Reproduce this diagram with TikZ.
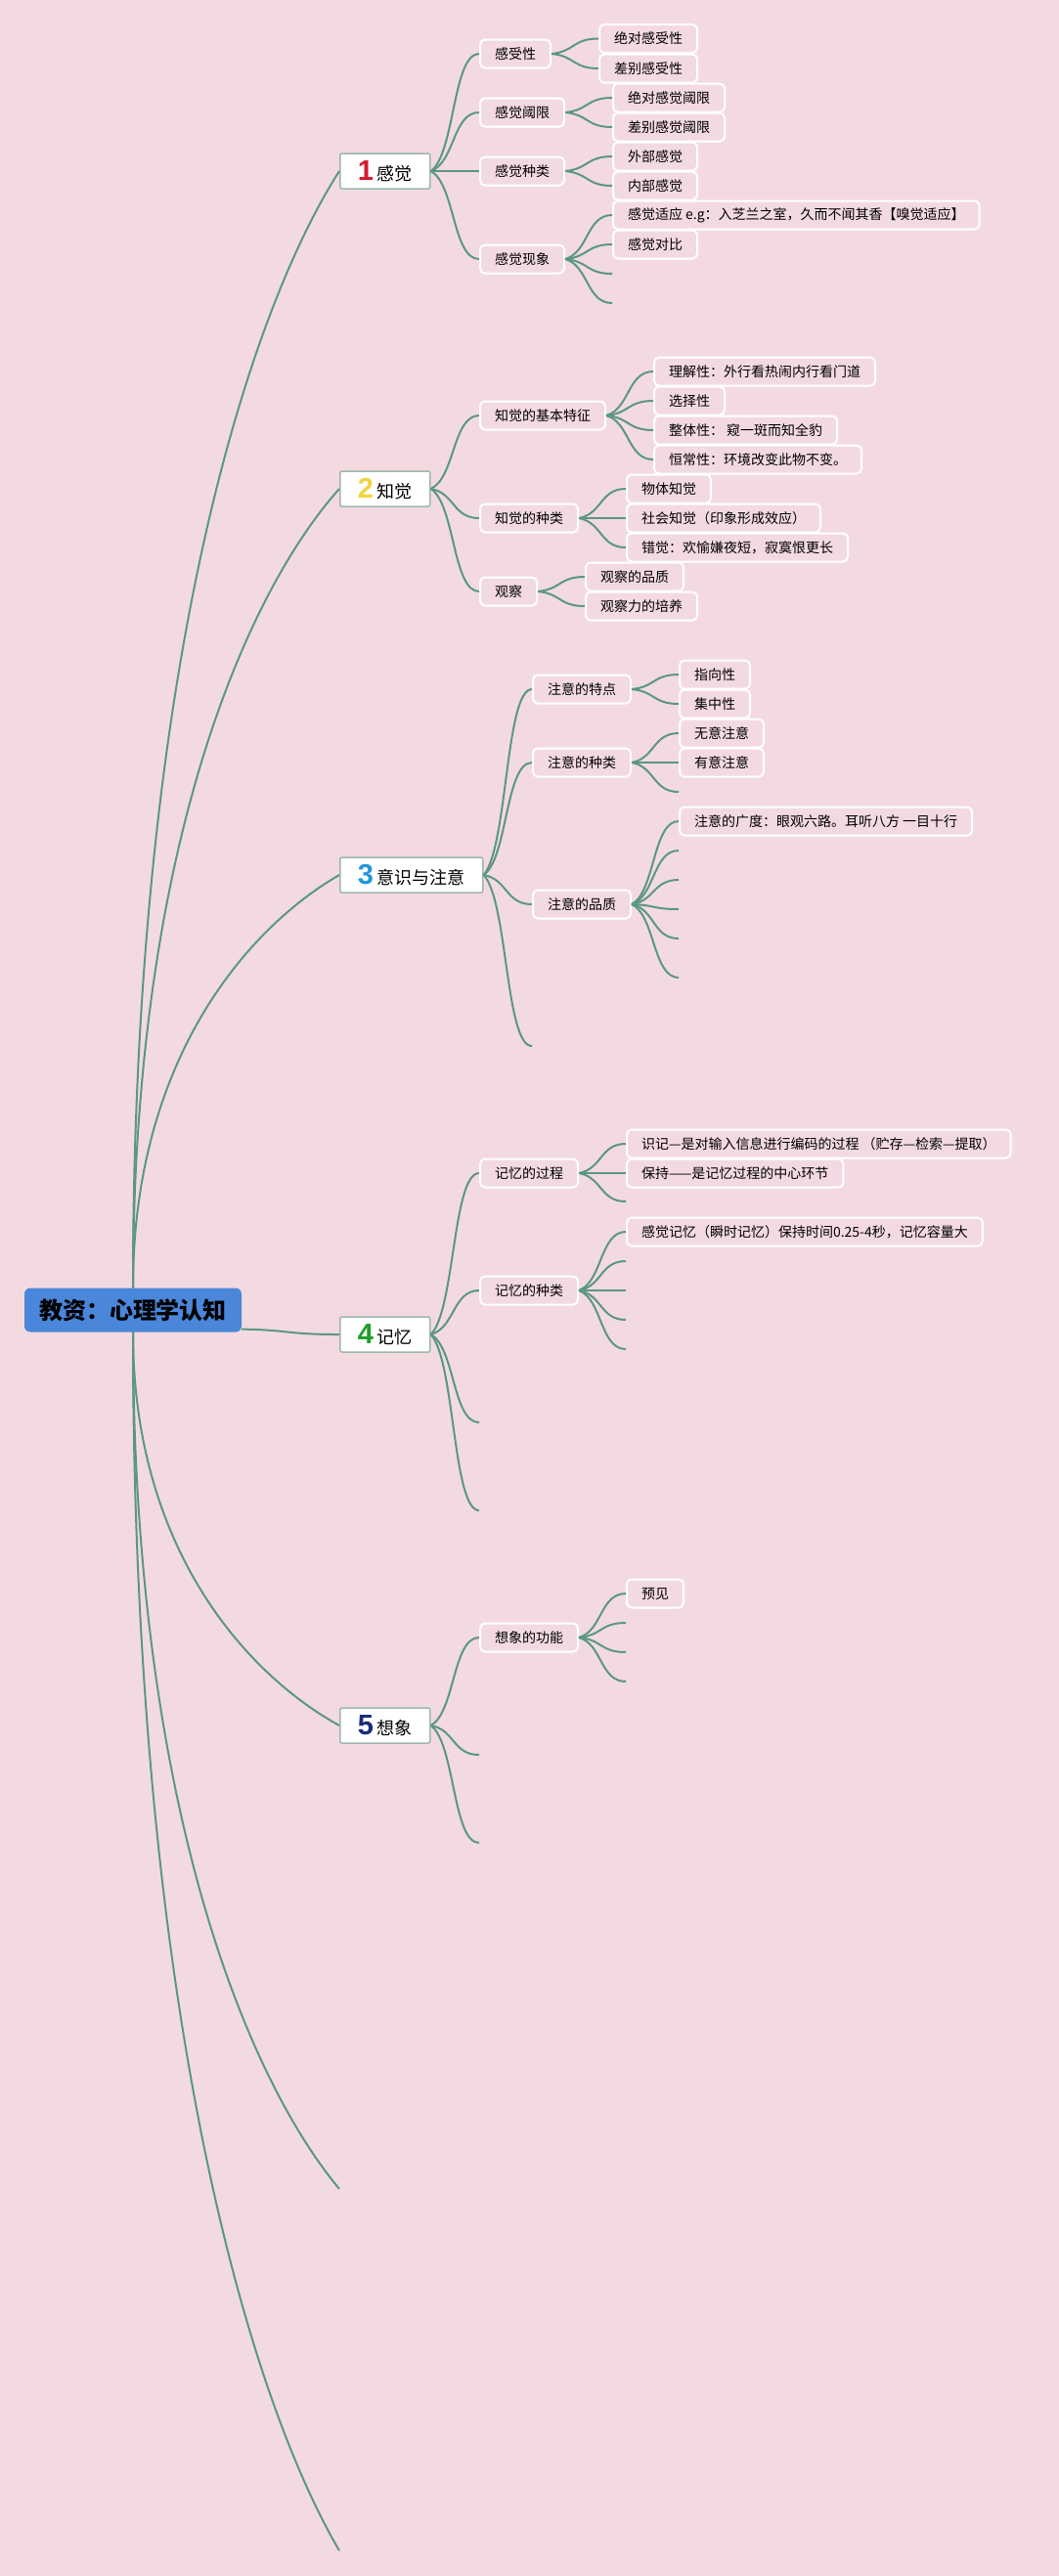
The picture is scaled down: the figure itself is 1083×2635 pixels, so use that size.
\documentclass[tikz,border=0pt]{standalone}
\usepackage{fontspec}
\setmainfont{Noto Sans CJK SC}
\newfontfamily\numfont{Liberation Sans}
\usepackage{xcolor}
\usepackage{tikz}
\usetikzlibrary{calc}
\definecolor{bgpink}{HTML}{F3DAE1}
\definecolor{linegreen}{HTML}{5B9782}
\definecolor{rootblue}{HTML}{4A86DA}
\definecolor{topline}{HTML}{9DB8AA}
\definecolor{numred}{HTML}{D7192B}
\definecolor{numyellow}{HTML}{F2D43E}
\definecolor{numblue}{HTML}{2196D9}
\definecolor{numgreen}{HTML}{1E9E2A}
\definecolor{numnavy}{HTML}{1B2A7A}

\newcommand{\tnum}[2]{{\numfont\bfseries\fontsize{29}{29}\selectfont\color{#1}#2}\hspace{4pt}}

\begin{document}
\begin{tikzpicture}[x=1pt, y=-1pt,
  link/.style={draw=linegreen, line width=2pt},
  rootbox/.style={fill=rootblue, rounded corners=6pt, minimum height=45pt, inner xsep=15pt, font=\fontsize{24}{28}\selectfont\bfseries},
  topic/.style={anchor=west, draw=topline, line width=1.5pt, fill=white, rounded corners=2pt, minimum height=36pt, inner xsep=18pt, font=\fontsize{18}{22}\selectfont},
  sub/.style={anchor=west, draw=white, line width=2pt, rounded corners=5pt, minimum height=29pt, inner xsep=15pt, font=\fontsize{14}{17}\selectfont},
  trunk/.style={to path={let \p1=(\tikztostart), \p2=(\tikztotarget) in
    .. controls (\x1,{\y1+0.55*(\y2-\y1)}) and ({\x1+0.55*(\x2-\x1)},{\y2-0.13*(\y2-\y1)}) .. (\tikztotarget)}},
  twig/.style={to path={let \p1=(\tikztostart), \p2=(\tikztotarget) in
    .. controls ({\x1+0.5*(\x2-\x1)},{\y1+0.15*(\y2-\y1)}) and ({\x1+0.45*(\x2-\x1)},\y2) .. (\tikztotarget)}}]

  \fill[bgpink] (0,0) rectangle (1083,2635);
  \useasboundingbox (0,0) rectangle (1083,2635);

  \node[rootbox] (root) at (136,1340) {教资：心理学认知};

  \node[topic] (t1) at (347,175) {\tnum{numred}{1}感觉};
  \node[topic] (t2) at (347,500) {\tnum{numyellow}{2}知觉};
  \node[topic] (t3) at (347,895) {\tnum{numblue}{3}意识与注意};
  \node[topic] (t4) at (347,1365) {\tnum{numgreen}{4}记忆};
  \node[topic] (t5) at (347,1765) {\tnum{numnavy}{5}想象};
  \coordinate (t6) at (347,2239);
  \coordinate (t7) at (347,2609);

  % 感觉
  \node[sub] (s11) at (490,55) {感受性};
  \node[sub] (s12) at (490,115) {感觉阈限};
  \node[sub] (s13) at (490,175) {感觉种类};
  \node[sub] (s14) at (490,265) {感觉现象};
  \node[sub] (s111) at (612,39.5) {绝对感受性};
  \node[sub] (s112) at (612,70) {差别感受性};
  \node[sub] (s121) at (626,100) {绝对感觉阈限};
  \node[sub] (s122) at (626,130) {差别感觉阈限};
  \node[sub] (s131) at (626,160) {外部感觉};
  \node[sub] (s132) at (626,190) {内部感觉};
  \node[sub] (s141) at (626,220) {感觉适应 e.g：入芝兰之室，久而不闻其香【嗅觉适应】};
  \node[sub] (s142) at (626,250) {感觉对比};
  \coordinate (e143) at (626,280);
  \coordinate (e144) at (626,310);

  % 知觉
  \node[sub] (s21) at (490,425) {知觉的基本特征};
  \node[sub] (s22) at (490,530) {知觉的种类};
  \node[sub] (s23) at (490,605) {观察};
  \node[sub] (s211) at (668,380) {理解性：外行看热闹内行看门道};
  \node[sub] (s212) at (668,410) {选择性};
  \node[sub] (s213) at (668,440) {整体性： 窥一斑而知全豹};
  \node[sub] (s214) at (668,470) {恒常性：环境改变此物不变。};
  \node[sub] (s221) at (640,500) {物体知觉};
  \node[sub] (s222) at (640,530) {社会知觉（印象形成效应）};
  \node[sub] (s223) at (640,560) {错觉：欢愉嫌夜短，寂寞恨更长};
  \node[sub] (s231) at (598,590) {观察的品质};
  \node[sub] (s232) at (598,620) {观察力的培养};

  % 意识与注意
  \node[sub] (s31) at (544,705) {注意的特点};
  \node[sub] (s32) at (544,780) {注意的种类};
  \node[sub] (s33) at (544,925) {注意的品质};
  \coordinate (e34) at (544,1070);
  \node[sub] (s311) at (694,690) {指向性};
  \node[sub] (s312) at (694,720) {集中性};
  \node[sub] (s321) at (694,750) {无意注意};
  \node[sub] (s322) at (694,780) {有意注意};
  \coordinate (e323) at (694,810);
  \node[sub] (s331) at (694,840) {注意的广度：眼观六路。耳听八方 一目十行};
  \coordinate (e332) at (694,870);
  \coordinate (e333) at (694,900);
  \coordinate (e334) at (694,930);
  \coordinate (e335) at (694,960);
  \coordinate (e336) at (694,1000);

  % 记忆
  \node[sub] (s41) at (490,1200) {记忆的过程};
  \node[sub] (s42) at (490,1320) {记忆的种类};
  \coordinate (e43) at (490,1455);
  \coordinate (e44) at (490,1545);
  \node[sub] (s411) at (640,1170) {识记—是对输入信息进行编码的过程 （贮存—检索—提取）};
  \node[sub] (s412) at (640,1200) {保持——是记忆过程的中心环节};
  \coordinate (e413) at (640,1229);
  \node[sub] (s421) at (640,1260) {感觉记忆（瞬时记忆）保持时间0.25-4秒，记忆容量大};
  \coordinate (e422) at (640,1290);
  \coordinate (e423) at (640,1320);
  \coordinate (e424) at (640,1350);
  \coordinate (e425) at (640,1380);

  % 想象
  \node[sub] (s51) at (490,1675) {想象的功能};
  \coordinate (e52) at (490,1795);
  \coordinate (e53) at (490,1885);
  \node[sub] (s511) at (640,1630) {预见};
  \coordinate (e512) at (640,1660);
  \coordinate (e513) at (640,1690);
  \coordinate (e514) at (640,1720);

  % main branches
  \foreach \t in {t1,t2,t3}
    \draw[link] (root.north) to[trunk] (\t.west);
  \draw[link] (root.-10) to[twig] (t4.west);
  \draw[link] (root.south) to[trunk] (t5.west);
  \foreach \t in {t6,t7}
    \draw[link] (root.south) to[trunk] (\t);

  % sub branches
  \foreach \c in {s11,s12,s13,s14} \draw[link] (t1.east) to[twig] (\c.west);
  \foreach \c in {s21,s22,s23} \draw[link] (t2.east) to[twig] (\c.west);
  \foreach \c in {s31,s32,s33} \draw[link] (t3.east) to[twig] (\c.west);
  \draw[link] (t3.east) to[twig] (e34);
  \foreach \c in {s41,s42} \draw[link] (t4.east) to[twig] (\c.west);
  \foreach \c in {e43,e44} \draw[link] (t4.east) to[twig] (\c);
  \draw[link] (t5.east) to[twig] (s51.west);
  \foreach \c in {e52,e53} \draw[link] (t5.east) to[twig] (\c);

  \foreach \c in {s111,s112} \draw[link] (s11.east) to[twig] (\c.west);
  \foreach \c in {s121,s122} \draw[link] (s12.east) to[twig] (\c.west);
  \foreach \c in {s131,s132} \draw[link] (s13.east) to[twig] (\c.west);
  \foreach \c in {s141,s142} \draw[link] (s14.east) to[twig] (\c.west);
  \foreach \c in {e143,e144} \draw[link] (s14.east) to[twig] (\c);
  \foreach \c in {s211,s212,s213,s214} \draw[link] (s21.east) to[twig] (\c.west);
  \foreach \c in {s221,s222,s223} \draw[link] (s22.east) to[twig] (\c.west);
  \foreach \c in {s231,s232} \draw[link] (s23.east) to[twig] (\c.west);
  \foreach \c in {s311,s312} \draw[link] (s31.east) to[twig] (\c.west);
  \foreach \c in {s321,s322} \draw[link] (s32.east) to[twig] (\c.west);
  \draw[link] (s32.east) to[twig] (e323);
  \draw[link] (s33.east) to[twig] (s331.west);
  \foreach \c in {e332,e333,e334,e335,e336} \draw[link] (s33.east) to[twig] (\c);
  \foreach \c in {s411,s412} \draw[link] (s41.east) to[twig] (\c.west);
  \draw[link] (s41.east) to[twig] (e413);
  \draw[link] (s42.east) to[twig] (s421.west);
  \foreach \c in {e422,e423,e424,e425} \draw[link] (s42.east) to[twig] (\c);
  \draw[link] (s51.east) to[twig] (s511.west);
  \foreach \c in {e512,e513,e514} \draw[link] (s51.east) to[twig] (\c);
\end{tikzpicture}
\end{document}
